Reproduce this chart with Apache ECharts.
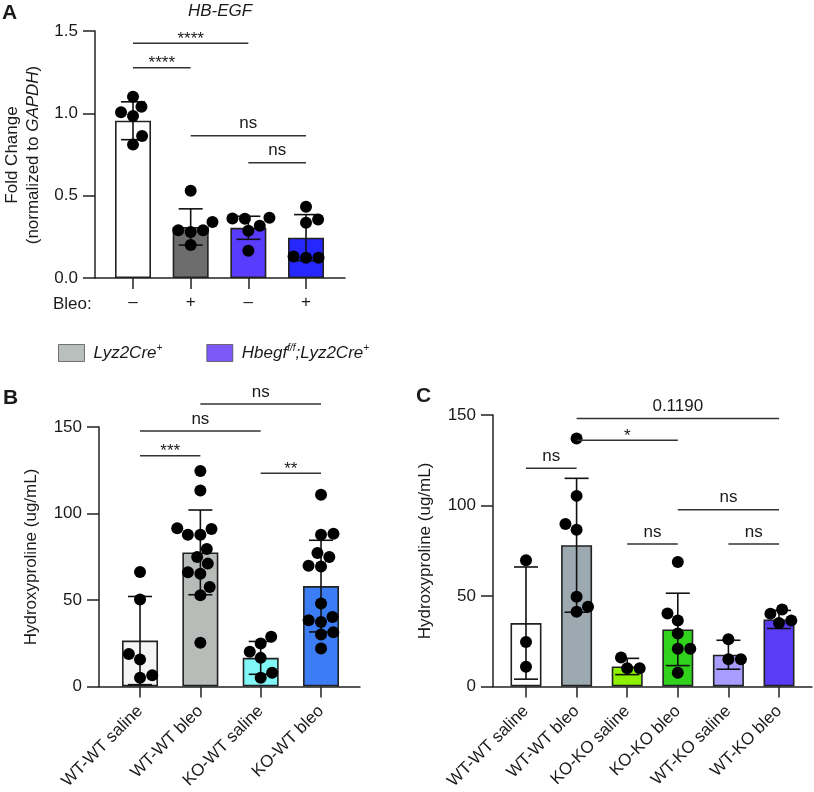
<!DOCTYPE html>
<html><head><meta charset="utf-8">
<script src="https://cdn.jsdelivr.net/npm/echarts@6/dist/echarts.min.js"></script>
<style>html,body{margin:0;padding:0;background:#fff}#c{width:814px;height:792px}</style>
</head><body><div id="c"></div>
<script>
// ---------- Panel A : HB-EGF ----------
const catsA = ['\u2013', '+', '\u2013', '+'];
const yTicksA = [0, 0.5, 1.0, 1.5];
const meanA = [0.955, 0.31, 0.305, 0.245];
const sdA = [0.115, 0.11, 0.07, 0.14];
const ptsA = [
  [1.10, 1.04, 1.006, 0.984, 0.862, 0.81],
  [0.53, 0.34, 0.29, 0.29, 0.28, 0.20],
  [0.366, 0.362, 0.36, 0.318, 0.287, 0.166],
  [0.433, 0.355, 0.336, 0.13, 0.123, 0.123]
];
const sigFromA = [0, 0, 1, 2];
const sigToA = [1, 2, 3, 3];
const sigYA = [1.277, 1.425, 0.864, 0.70];
const sigLabelA = ['****', '****', 'ns', 'ns'];

// ---------- Panel B ----------
const catsB = ['WT-WT saline', 'WT-WT bleo', 'KO-WT saline', 'KO-WT bleo'];
const yTicksB = [0, 50, 100, 150];
const meanB = [26.5, 77.5, 16.5, 58];
const sdB = [25.5, 24.5, 9.5, 26.5];
const ptsB = [
  [66.2, 50.2, 18.8, 15.6, 6.5, 5],
  [124.6, 113.3, 91.5, 91, 87.7, 87.7, 79.4, 74.8, 71, 66, 65.2, 57.5, 52.7, 25.2],
  [28.7, 24.8, 20, 16.5, 7.9, 5],
  [110.8, 88.3, 87.7, 77.1, 74.8, 69.8, 69.4, 47.9, 40.2, 38.3, 37.3, 31.3, 30, 21.9]
];
const sigFromB = [0, 2, 1, 0];
const sigToB = [1, 3, 3, 2];
const sigYB = [133.4, 123.3, 163.3, 147.7];
const sigLabelB = ['***', '**', 'ns', 'ns'];

// ---------- Panel C ----------
const catsC = ['WT-WT saline', 'WT-WT bleo', 'KO-KO saline', 'KO-KO bleo', 'WT-KO saline', 'WT-KO bleo'];
const yTicksC = [0, 50, 100, 150];
const meanC = [35, 78, 11, 31.5, 17.5, 37];
const sdC = [31, 37, 4.5, 20, 8, 5];
const ptsC = [
  [69.7, 24.6, 10.8],
  [137, 105.3, 89.7, 86.6, 49.5, 44, 41.2],
  [16, 10, 10],
  [68.8, 40.3, 36.4, 29.2, 20.8, 20.8, 7.5],
  [26, 15, 15],
  [42.5, 40.1, 36.4, 35.1]
];
const sigFromC = [0, 1, 1, 3, 2, 4];
const sigToC = [1, 3, 5, 5, 3, 5];
const sigYC = [120.6, 136, 148, 97.6, 78.7, 78.7];
const sigLabelC = ['ns', '*', '0.1190', 'ns', 'ns', 'ns'];

// ---------- Legend ----------
const legendNames = ['Lyz2Cre+', 'Hbegf f/f;Lyz2Cre+'];
const legendRich = ['{i|Lyz2Cre}{s|+}', '{i|Hbegf}{s|f/f}{i|;Lyz2Cre}{s|+}'];

// ---------- styles ----------
const FF = '"Liberation Sans", Arial, Helvetica, sans-serif';
const INK = '#1a1a1a';
const colorsA = ['#ffffff', '#6d6d6d', '#5a3cff', '#2626ff'];
const colorsB = ['#f4f5f4', '#b7bcb9', '#80f6f6', '#3c7df6'];
const colorsC = ['#ffffff', '#9ca9b1', '#8cf000', '#30d21c', '#a99cff', '#5a3cf5'];
const legendColors = ['#a7afac', '#5b2ff5'];

const grids = [
  {left: 95, top: 31, width: 250, height: 247, xmin: -0.659, xmax: 3.676, ymax: 1.5, barW: 36},
  {left: 99, top: 427, width: 261, height: 260, xmin: -0.68, xmax: 3.646, ymax: 150, barW: 36},
  {left: 493, top: 415, width: 319, height: 272, xmin: -0.652, xmax: 5.652, ymax: 150, barW: 31}
];
const DOT = 12;
const GAP = 12.5;

function swarm(groups, g) {
  const pxX = g.width / (g.xmax - g.xmin), pxY = g.height / g.ymax;
  const out = [];
  groups.forEach((vals, gi) => {
    const order = vals.map((v, i) => i).sort((a, b) => vals[a] - vals[b]);
    const placed = [];
    let side = 1;
    order.forEach(i => {
      const y = vals[i] * pxY;
      const cands = [0];
      placed.forEach(p => {
        const dy = Math.abs(p.y - y);
        if (dy < GAP) { const h = Math.sqrt(GAP * GAP - dy * dy); cands.push(p.dx + h, p.dx - h); }
      });
      const ok = c => placed.every(p => (p.dx - c) * (p.dx - c) + (p.y - y) * (p.y - y) >= GAP * GAP - 0.01);
      const valid = cands.filter(ok).sort((a, b) => {
        const d = Math.abs(a) - Math.abs(b);
        if (Math.abs(d) > 1e-6) return d;
        return (b * side) - (a * side);
      });
      const best = valid[0];
      if (Math.abs(best) > 1e-6) side = -side;
      placed.push({dx: best, y});
      out.push([gi + best / pxX, vals[i]]);
    });
  });
  return out;
}

const axisLineStyle = {color: '#222', width: 1.5};
function xAx(gi, cats, rotate) {
  const g = grids[gi];
  const vals = cats.map((c, i) => i);
  return {
    type: 'value', gridIndex: gi, min: g.xmin, max: g.xmax, splitLine: {show: false},
    axisLine: {show: true, onZero: false, lineStyle: axisLineStyle},
    axisTick: {show: true, length: 11, customValues: vals, lineStyle: axisLineStyle},
    axisLabel: {customValues: vals, formatter: v => cats[Math.round(v)], rotate: rotate, margin: rotate ? 22 : 16,
      fontSize: 17, color: INK, fontFamily: FF}
  };
}
function yAx(gi, ticks, digits) {
  return {
    type: 'value', gridIndex: gi, min: ticks[0], max: ticks[ticks.length - 1], splitLine: {show: false},
    axisLine: {show: true, onZero: false, lineStyle: axisLineStyle},
    axisTick: {show: true, length: 12, customValues: ticks, lineStyle: axisLineStyle},
    axisLabel: {customValues: ticks, formatter: v => Number(v).toFixed(digits), margin: 17,
      fontSize: 17, color: INK, fontFamily: FF}
  };
}
function barSeries(gi, means, colors) {
  return {
    type: 'bar', xAxisIndex: gi, yAxisIndex: gi, barWidth: grids[gi].barW, z: 2, silent: true,
    data: means.map((m, i) => ({value: [i, m], itemStyle: {color: colors[i], borderColor: '#222', borderWidth: 1.6}}))
  };
}
function errSeries(gi, means, sds) {
  return {
    type: 'custom', xAxisIndex: gi, yAxisIndex: gi, z: 3, clip: false, silent: true,
    data: means.map((m, i) => [i, m, sds[i]]), encode: {x: 0, y: 1},
    renderItem: (params, api) => {
      const x = api.value(0), m = api.value(1), s = api.value(2);
      const t = api.coord([x, m + s]), b = api.coord([x, m - s]);
      const hw = 12, st = {stroke: '#111', lineWidth: 1.6};
      return {type: 'group', children: [
        {type: 'line', shape: {x1: t[0], y1: t[1], x2: b[0], y2: b[1]}, style: st},
        {type: 'line', shape: {x1: t[0] - hw, y1: t[1], x2: t[0] + hw, y2: t[1]}, style: st},
        {type: 'line', shape: {x1: b[0] - hw, y1: b[1], x2: b[0] + hw, y2: b[1]}, style: st}
      ]};
    }
  };
}
function dotSeries(gi, pts) {
  return {
    type: 'scatter', xAxisIndex: gi, yAxisIndex: gi, z: 4, clip: false, silent: true,
    symbolSize: DOT, itemStyle: {color: '#000', opacity: 1}, data: swarm(pts, grids[gi])
  };
}
function sigSeries(gi, from, to, ys, labels) {
  return {
    type: 'custom', xAxisIndex: gi, yAxisIndex: gi, z: 5, clip: false, silent: true,
    data: from.map((f, i) => [f, to[i], ys[i]]), encode: {x: [0, 1], y: 2},
    renderItem: (params, api) => {
      const a = api.coord([api.value(0), api.value(2)]), b = api.coord([api.value(1), api.value(2)]);
      const lab = labels[params.dataIndex];
      const star = lab.charAt(0) === '*';
      return {type: 'group', children: [
        {type: 'line', shape: {x1: a[0], y1: a[1], x2: b[0], y2: a[1]}, style: {stroke: '#333', lineWidth: 1.5}},
        {type: 'text', x: (a[0] + b[0]) / 2, y: a[1] - (star ? 4 : 12),
          style: {text: lab, fill: INK, fontSize: 17, fontFamily: FF, align: 'center', verticalAlign: 'middle'}}
      ]};
    }
  };
}

function txt(x, y, text, opts) {
  return Object.assign({type: 'text', x: x, y: y, silent: true,
    style: Object.assign({text: text, fill: INK, fontSize: 17, fontFamily: FF, align: 'left', verticalAlign: 'middle'}, opts && opts.style || {})},
    opts && opts.el || {});
}

const chart = echarts.init(document.getElementById('c'), null, {renderer: 'canvas'});
chart.setOption({
  animation: false,
  backgroundColor: '#fff',
  grid: grids.map(g => ({left: g.left, top: g.top, width: g.width, height: g.height})),
  xAxis: [xAx(0, catsA, 0), xAx(1, catsB, 45), xAx(2, catsC, 45)],
  yAxis: [yAx(0, yTicksA, 1), yAx(1, yTicksB, 0), yAx(2, yTicksC, 0)],
  legend: {
    left: 53, top: 338, itemWidth: 26, itemHeight: 17, itemGap: 44, icon: 'rect', selectedMode: false,
    data: legendNames.map((n, i) => ({name: n, itemStyle: {color: legendColors[i], borderColor: '#555', borderWidth: 1}})),
    formatter: n => legendRich[legendNames.indexOf(n)],
    textStyle: {fontSize: 17, fontFamily: FF, color: INK, fontStyle: 'italic', padding: [0, 0, 0, 4],
      rich: {
        i: {fontSize: 17, fontFamily: FF, fontStyle: 'italic', color: INK, lineHeight: 20},
        s: {fontSize: 10, fontFamily: FF, fontStyle: 'italic', color: INK, lineHeight: 12, verticalAlign: 'top'}
      }}
  },
  series: [
    barSeries(0, meanA, colorsA), errSeries(0, meanA, sdA), dotSeries(0, ptsA), sigSeries(0, sigFromA, sigToA, sigYA, sigLabelA),
    barSeries(1, meanB, colorsB), errSeries(1, meanB, sdB), dotSeries(1, ptsB), sigSeries(1, sigFromB, sigToB, sigYB, sigLabelB),
    barSeries(2, meanC, colorsC), errSeries(2, meanC, sdC), dotSeries(2, ptsC), sigSeries(2, sigFromC, sigToC, sigYC, sigLabelC),
    {type: 'scatter', name: legendNames[0], xAxisIndex: 0, yAxisIndex: 0, data: [], itemStyle: {color: legendColors[0]}},
    {type: 'scatter', name: legendNames[1], xAxisIndex: 0, yAxisIndex: 0, data: [], itemStyle: {color: legendColors[1]}}
  ],
  graphic: [
    txt(2, 13, 'A', {style: {fontSize: 21, fontWeight: 'bold'}}),
    txt(3, 398, 'B', {style: {fontSize: 21, fontWeight: 'bold'}}),
    txt(416, 396, 'C', {style: {fontSize: 21, fontWeight: 'bold'}}),
    txt(220, 11, 'HB-EGF', {style: {fontStyle: 'italic', align: 'center'}}),
    txt(53, 304, 'Bleo:'),
    txt(12, 155, 'Fold Change', {style: {align: 'center'}, el: {rotation: Math.PI / 2}}),
    txt(33, 155, '(normalized to {i|GAPDH})', {style: {align: 'center',
      rich: {i: {fontStyle: 'italic', fontSize: 17, fontFamily: FF, fill: INK}}}, el: {rotation: Math.PI / 2}}),
    txt(31, 557, 'Hydroxyproline (ug/mL)', {style: {align: 'center'}, el: {rotation: Math.PI / 2}}),
    txt(425, 551, 'Hydroxyproline (ug/mL)', {style: {align: 'center'}, el: {rotation: Math.PI / 2}})
  ]
});
</script>
</body></html>
